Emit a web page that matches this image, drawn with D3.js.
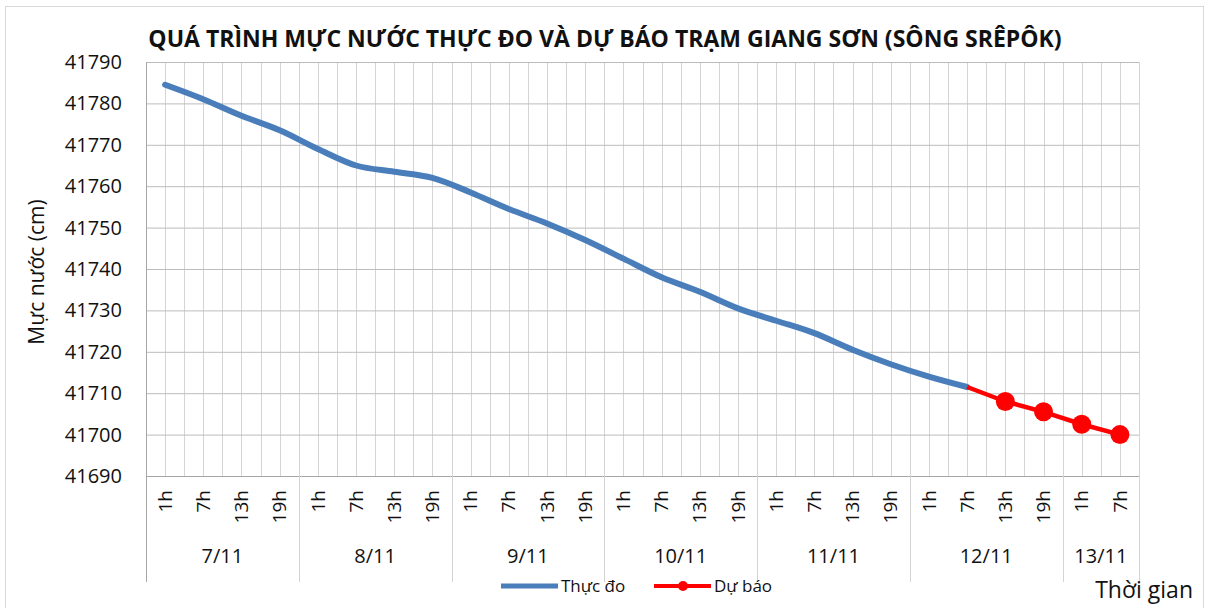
<!DOCTYPE html>
<meta charset="utf-8">
<title>Mực nước thực đo và dự báo trạm Giang Sơn</title>
<style>
    body {
        margin: 0;
        background: #fff;
        font-family: "Open Sans", "Noto Sans", sans-serif;
    }
</style>

<body>
    <script src="https://cdn.jsdelivr.net/npm/d3@7/dist/d3.min.js"></script>
    <script>
        /* Category axis: days and the hours measured in each */
        var days = ["7/11", "8/11", "9/11", "10/11", "11/11", "12/11", "13/11"];
        var hoursPerDay = [4, 4, 4, 4, 4, 4, 2];
        var hourLabels = ["1h", "7h", "13h", "19h"];

        /* Water level (cm), one value per category, null = no value */
        var thucDo = [41784.5, 41781, 41777, 41773.5, 41769, 41765, 41763.5, 41762,
            41758.5, 41754.5, 41751, 41747, 41742.5, 41738, 41734.5, 41730.5,
            41727.5, 41724.5, 41720.5, 41717, 41714, 41711.5,
            null, null, null, null];
        var duBao = [null, null, null, null, null, null, null, null,
            null, null, null, null, null, null, null, null,
            null, null, null, null, null, 41711.5,
            41708, 41705.5, 41702.5, 41700];

        var yTicks = [41690, 41700, 41710, 41720, 41730, 41740, 41750, 41760, 41770, 41780, 41790];

        var seriesNames = ["Thực đo", "Dự báo"];
        var title = "QUÁ TRÌNH MỰC NƯỚC THỰC ĐO VÀ DỰ BÁO TRẠM GIANG SƠN (SÔNG SRÊPÔK)";

        /* Layout */
        var width = 1211,
            height = 608;
        var plot = { left: 146, right: 1139, top: 62, bottom: 476 };
        var blue = "#4a7ebb",
            red = "#ff0000",
            textColor = "#111";

        /* Build the two level categories */
        var categories = [];
        days.forEach(function (d, i) {
            hourLabels.slice(0, hoursPerDay[i]).forEach(function (h) {
                categories.push({ day: d, hour: h, key: d + " " + h });
            });
        });
        var keys = categories.map(function (c) { return c.key; });

        var x = d3.scaleBand()
            .domain(keys)
            .range([plot.left, plot.right]);
        var y = d3.scaleLinear()
            .domain([41690, 41790])
            .range([plot.bottom, plot.top]);

        function cx(i) { return x(keys[i]) + x.bandwidth() / 2; }

        var svg = d3.select("body").append("svg")
            .attr("width", width)
            .attr("height", height);

        // outer chart border
        svg.append("rect")
            .attr("x", 5.5).attr("y", 6.5)
            .attr("width", 1198).attr("height", 610)
            .attr("fill", "none")
            .attr("stroke", "#d9d9d9");

        // vertical gridlines: band edges and band centers
        var vLines = [];
        keys.forEach(function (k) {
            vLines.push(x(k));
            vLines.push(x(k) + x.bandwidth() / 2);
        });
        vLines.push(plot.right);
        svg.append("g")
            .selectAll("line")
            .data(vLines)
            .enter()
            .append("line")
            .attr("x1", function (d) { return Math.round(d) + 0.5; })
            .attr("x2", function (d) { return Math.round(d) + 0.5; })
            .attr("y1", plot.top)
            .attr("y2", plot.bottom)
            .attr("stroke", "#d4d4d4");

        // horizontal gridlines
        svg.append("g")
            .attr("transform", "translate(" + plot.left + ",0)")
            .call(d3.axisLeft(y).tickValues(yTicks).tickSize(-(plot.right - plot.left)).tickFormat(""))
            .call(function (g) { g.select(".domain").remove(); })
            .call(function (g) { g.selectAll("line").attr("stroke", "#bcbcbc"); });

        // y axis labels
        svg.append("g")
            .attr("transform", "translate(" + plot.left + ",0)")
            .call(d3.axisLeft(y).tickValues(yTicks).tickSize(0).tickPadding(24).tickFormat(d3.format("d")))
            .call(function (g) { g.select(".domain").remove(); })
            .call(function (g) {
                g.selectAll("text")
                    .attr("font-family", "Open Sans")
                    .attr("font-size", 20)
                    .attr("fill", textColor);
            });

        // x axis: hour labels rotated
        svg.append("g")
            .attr("transform", "translate(0," + plot.bottom + ")")
            .call(d3.axisBottom(x).tickSize(0).tickFormat(function (k) { return categories[keys.indexOf(k)].hour; }))
            .call(function (g) { g.select(".domain").remove(); })
            .call(function (g) {
                g.selectAll("text")
                    .attr("transform", "rotate(-90)")
                    .attr("x", -14)
                    .attr("y", 0)
                    .attr("dy", "0.35em")
                    .attr("text-anchor", "end")
                    .attr("font-family", "Open Sans")
                    .attr("font-size", 19)
                    .attr("fill", textColor);
            });

        // axis lines
        svg.append("line")
            .attr("x1", plot.left).attr("x2", plot.right)
            .attr("y1", plot.bottom + 0.5).attr("y2", plot.bottom + 0.5)
            .attr("stroke", "#a6a6a6");

        // day groups: separators and labels
        var groups = days.map(function (d) {
            var ks = categories.filter(function (c) { return c.day === d; });
            return {
                day: d,
                x0: x(ks[0].key),
                x1: x(ks[ks.length - 1].key) + x.bandwidth()
            };
        });
        var sep = groups.map(function (g) { return g.x0; });
        sep.push(plot.right);
        svg.append("g")
            .selectAll("line")
            .data(sep)
            .enter()
            .append("line")
            .attr("x1", function (d) { return Math.round(d) + 0.5; })
            .attr("x2", function (d) { return Math.round(d) + 0.5; })
            .attr("y1", function (d, i) { return i === 0 ? plot.top : plot.bottom; })
            .attr("y2", 582)
            .attr("stroke", function (d, i) { return i === 0 ? "#a6a6a6" : "#d4d4d4"; });

        svg.append("g")
            .selectAll("text")
            .data(groups)
            .enter()
            .append("text")
            .attr("x", function (g) { return (g.x0 + g.x1) / 2; })
            .attr("y", 563)
            .attr("text-anchor", "middle")
            .attr("font-size", 20)
            .attr("fill", textColor)
            .text(function (g) { return g.day; });

        // observed series
        var lineObs = d3.line()
            .defined(function (d) { return d !== null; })
            .x(function (d, i) { return cx(i); })
            .y(function (d) { return y(d); })
            .curve(d3.curveMonotoneX);
        svg.append("path")
            .datum(thucDo)
            .attr("d", lineObs)
            .attr("fill", "none")
            .attr("stroke", blue)
            .attr("stroke-width", 6)
            .attr("stroke-linecap", "round")
            .attr("stroke-linejoin", "round");

        // forecast series
        var lineFc = d3.line()
            .defined(function (d) { return d !== null; })
            .x(function (d, i) { return cx(i); })
            .y(function (d) { return y(d); });
        svg.append("path")
            .datum(duBao)
            .attr("d", lineFc)
            .attr("fill", "none")
            .attr("stroke", red)
            .attr("stroke-width", 4.5);

        svg.append("g")
            .selectAll("circle")
            .data(duBao.map(function (v, i) { return { v: v, i: i }; })
                .filter(function (d) { return d.v !== null && thucDo[d.i] === null; }))
            .enter()
            .append("circle")
            .attr("cx", function (d) { return cx(d.i); })
            .attr("cy", function (d) { return y(d.v); })
            .attr("r", 9.5)
            .attr("fill", red);

        // title, fitted to the plot width
        var t = svg.append("text")
            .attr("x", 605)
            .attr("y", 47)
            .attr("text-anchor", "middle")
            .attr("font-weight", "bold")
            .attr("font-size", 22)
            .attr("fill", textColor)
            .text(title);
        var tw = t.node().getComputedTextLength();
        t.attr("font-size", 22 * 914 / tw);

        // y axis title
        svg.append("text")
            .attr("transform", "translate(44,272) rotate(-90)")
            .attr("text-anchor", "middle")
            .attr("font-size", 21)
            .attr("fill", textColor)
            .text("Mực nước (cm)");

        // x axis title
        svg.append("text")
            .attr("x", 1193)
            .attr("y", 598)
            .attr("text-anchor", "end")
            .attr("font-size", 23)
            .attr("fill", textColor)
            .text("Thời gian");

        // legend
        var legend = svg.append("g").attr("transform", "translate(0,586)");
        legend.append("line")
            .attr("x1", 501).attr("x2", 558)
            .attr("y1", 0).attr("y2", 0)
            .attr("stroke", blue).attr("stroke-width", 5);
        legend.append("text")
            .attr("x", 561).attr("y", 0).attr("dy", "0.35em")
            .attr("font-size", 17).attr("fill", textColor)
            .text(seriesNames[0]);
        legend.append("line")
            .attr("x1", 654).attr("x2", 711)
            .attr("y1", 0).attr("y2", 0)
            .attr("stroke", red).attr("stroke-width", 4);
        legend.append("circle")
            .attr("cx", 683).attr("cy", 0).attr("r", 5)
            .attr("fill", red);
        legend.append("text")
            .attr("x", 714).attr("y", 0).attr("dy", "0.35em")
            .attr("font-size", 17).attr("fill", textColor)
            .text(seriesNames[1]);
    </script>
</body>
